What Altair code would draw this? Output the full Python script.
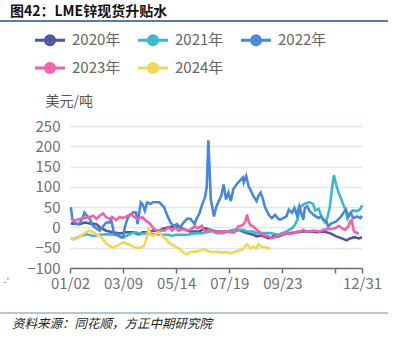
import altair as alt
import pandas as pd

FONT = "Noto Sans CJK SC"

years = ["2020年", "2021年", "2022年", "2023年", "2024年"]
colors = ["#4f579c", "#3cb8cd", "#4a88d4", "#f160a9", "#f3d652"]

tick_days = [0, 66, 132, 198, 264, 330, 363]
tick_labels = ["01/02", "03/09", "05/14", "07/19", "09/23", "", "12/31"]
y_ticks = [-100, -50, 0, 50, 100, 150, 200, 250]

d2020 = [1, 12, 18, 25, 33, 37, 45, 53, 62, 70, 78, 82, 86, 90, 98, 103, 111, 115, 121, 127,
         135, 141, 149, 155, 161, 168, 174, 182, 195, 203, 209, 215, 220, 228, 232, 238, 247, 253, 259, 267,
         274, 282, 290, 298, 307, 315, 323, 331, 338, 344, 348, 354, 359, 363]
v2020 = [10, 8, 12, 10, 8, 0, -8, -12, -15, -12, -12, -15, -17, -12, -12, -8, -8, -4, 0, 2,
         2, -4, -10, -10, -10, -2, -6, -10, -10, -12, -6, -10, -14, -18, -22, -20, -27, -22, -22, -16,
         -14, -12, -10, -10, -12, -10, -14, -22, -27, -32, -27, -24, -27, -24]

d2021 = [1, 4, 12, 21, 29, 37, 45, 53, 57, 64, 70, 76, 82, 86, 94, 103, 111, 115, 123, 127,
         131, 146, 155, 165, 174, 178, 182, 191, 195, 203, 215, 220, 228, 232, 249, 259, 269, 276, 280, 283,
         286, 290, 294, 298, 302, 305, 309, 313, 317, 320, 323, 326, 328, 331, 334, 337, 340, 343, 345, 348,
         352, 357, 361, 363]
v2021 = [-25, -29, -22, -17, -21, -18, -17, -17, -18, -25, -21, -15, -12, -15, -15, -17, -17, -18, -18, -21,
         -18, -18, -15, -14, -10, -10, -14, -14, -10, -6, -6, -10, -10, -14, -14, -18, -10, -2, 8, 20,
         50, 56, 60, 62, 58, 42, 46, 25, 12, 25, 50, 100, 129, 105, 85, 70, 55, 40, 22, 35,
         42, 40, 45, 55]

d2022 = [1, 3, 6, 10, 12, 16, 18, 21, 25, 27, 31, 37, 45, 49, 51, 55, 59, 64, 66, 68,
         72, 76, 79, 82, 84, 88, 90, 93, 96, 100, 103, 107, 111, 115, 117, 121, 125, 129, 133, 137,
         141, 146, 150, 155, 157, 161, 164, 168, 170, 172, 174, 175, 179, 182, 186, 188, 191, 194, 197, 200,
         203, 207, 211, 215, 216, 219, 222, 224, 228, 232, 234, 237, 240, 242, 247, 251, 255, 258, 261, 265,
         269, 272, 276, 279, 282, 285, 290, 292, 295, 298, 303, 309, 312, 315, 319, 321, 325, 331, 337, 340,
         343, 346, 349, 352, 357, 361, 363]
v2022 = [50, 21, 10, 8, 10, 25, 37, 29, 20, 8, 0, -8, 12, 12, 21, -17, -17, -25, -25, 0,
         25, 33, 37, 37, 8, 62, 58, 41, 62, 58, 62, 62, 62, 54, 50, 29, 12, 4, 8, 0,
         12, 22, 21, 8, 20, 35, 55, 75, 100, 215, 120, 70, 27, 52, 69, 77, 106, 69, 86, 65,
         94, 106, 115, 123, 111, 127, 102, 94, 77, 65, 77, 86, 69, 52, 31, 23, 31, 23, 19, 23,
         27, 44, 36, 48, 31, 52, 19, 48, 52, 40, 31, 23, 27, 19, 15, 2, 10, 15, 27, 36,
         44, 27, 36, 23, 27, 23, 29]

d2023 = [1, 6, 12, 18, 25, 29, 33, 37, 41, 45, 49, 53, 57, 62, 66, 72, 76, 80, 84, 90,
         94, 98, 103, 107, 111, 117, 123, 127, 131, 135, 141, 146, 149, 155, 159, 164, 168, 174, 182, 191,
         199, 205, 209, 215, 218, 220, 222, 224, 228, 232, 236, 240, 247, 251, 257, 263, 269, 276, 282, 286,
         290, 294, 303, 311, 315, 323, 330, 334, 338, 342, 346, 348, 350, 353, 357, 359]
v2023 = [21, 17, 21, 23, 26, 29, 21, 29, 35, 25, 21, 25, 18, 26, 23, 29, 33, 25, 21, 25,
         17, 12, 0, -8, -7, -8, 0, -8, 0, -8, -4, -8, -6, 2, -2, 4, -10, -6, -12, -10,
         -12, -10, 2, 6, 15, 32, 15, 6, 2, -6, -12, -18, -22, -27, -22, -18, -14, -16, -10, -10,
         -6, -10, -8, -10, -6, -4, -2, 4, -2, -6, 2, 14, 18, -10, -14, -14]

d2024 = [1, 4, 10, 16, 23, 29, 33, 37, 41, 45, 49, 53, 59, 66, 72, 76, 82, 88, 92, 95,
         98, 100, 103, 107, 110, 113, 117, 121, 125, 129, 133, 137, 141, 146, 150, 157, 166, 174, 182, 191,
         195, 199, 205, 211, 215, 220, 224, 228, 232, 234, 238, 242, 249]
v2024 = [-25, -29, -26, -17, -8, -12, -17, -21, -29, -40, -45, -50, -45, -37, -41, -45, -50, -50, -45, -29,
         0, -17, -21, -17, -12, -17, -25, -33, -41, -45, -50, -54, -62, -66, -60, -60, -54, -60, -60, -62,
         -60, -64, -60, -56, -54, -41, -52, -47, -52, -41, -47, -49, -52]

title_text = "图42：LME锌现货升贴水"
source_text = "资料来源：同花顺，方正中期研究院"
y_title = "美元/吨"

rows = []
for name, ds, vs in zip(years, [d2020, d2021, d2022, d2023, d2024],
                        [v2020, v2021, v2022, v2023, v2024]):
    for d, v in zip(ds, vs):
        rows.append({"day": d, "value": v, "year": name})
df = pd.DataFrame(rows)

label_expr = " : ".join(
    f"datum.value == {t} ? '{l}'" for t, l in zip(tick_days, tick_labels)) + " : ''"

legend_path = ("M-2,0H2"
               "M0.6,0A0.6,0.6,0,1,1,-0.6,0A0.6,0.6,0,1,1,0.6,0"
               "M0.2,0A0.2,0.2,0,1,1,-0.2,0A0.2,0.2,0,1,1,0.2,0")

lines = alt.Chart(df).mark_line(strokeWidth=2.6, interpolate="linear").encode(
    x=alt.X("day:Q",
            scale=alt.Scale(domain=[0, 363], nice=False, zero=False),
            axis=alt.Axis(values=tick_days, labelExpr=label_expr, title=None, grid=False,
                          domainColor="#6e7079", domainWidth=1.5, tickColor="#6e7079",
                          tickSize=5, tickWidth=1.5, labelFontSize=15, labelColor="#6e7079",
                          labelFont=FONT, labelPadding=3, labelFlush=False, labelOverlap=False)),
    y=alt.Y("value:Q",
            scale=alt.Scale(domain=[-100, 250], nice=False, zero=False),
            axis=alt.Axis(values=y_ticks, title=y_title, titleAngle=0, titleAlign="left",
                          titleBaseline="middle", titleX=-25, titleY=-25, titleFontSize=14,
                          titleFontWeight="normal", titleColor="#555555", titleFont=FONT,
                          domain=False, ticks=False, labelPadding=10, labelFontSize=15,
                          labelColor="#6e7079", labelFont=FONT,
                          gridColor="#e0e6f1", gridWidth=1.5)),
    color=alt.Color("year:N", scale=alt.Scale(domain=years, range=colors),
                    legend=alt.Legend(title=None, orient="none", legendX=-29, legendY=-95,
                                      direction="horizontal", columns=3,
                                      symbolType=legend_path, symbolSize=225,
                                      symbolStrokeWidth=3, symbolOpacity=1,
                                      labelFontSize=15, labelColor="#666666", labelFont=FONT,
                                      labelOffset=13, columnPadding=11, rowPadding=6)),
)

one = pd.DataFrame({"t": [0]})

title_mark = alt.Chart(pd.DataFrame({"t": [title_text]})).mark_text(
    align="left", baseline="middle", font=FONT, fontSize=14, fontWeight="bold", color="#111111"
).encode(text="t:N", x=alt.value(-60), y=alt.value(-114))

rule_top = alt.Chart(one).mark_rule(color="#21527f", strokeWidth=1.5).encode(
    x=alt.value(-70), x2=alt.value(318), y=alt.value(-105))

rule_bottom = alt.Chart(one).mark_rule(color="#6a8fb5", strokeWidth=1).encode(
    x=alt.value(-70), x2=alt.value(318), y=alt.value(187))

source_mark = alt.Chart(pd.DataFrame({"t": [source_text]})).mark_text(
    align="left", baseline="middle", font=FONT, fontSize=12.5, fontStyle="italic", color="#222222"
).encode(text="t:N", x=alt.value(-58), y=alt.value(198))

artifact = alt.Chart(pd.DataFrame({"t": ["-'"]})).mark_text(
    align="left", baseline="middle", font=FONT, fontSize=10, color="#888888"
).encode(text="t:N", x=alt.value(-67), y=alt.value(156))

chart = alt.layer(lines, title_mark, rule_top, rule_bottom, source_mark, artifact).properties(
    width=292, height=142,
    autosize=alt.AutoSizeParams(type="none"),
    padding={"left": 70, "top": 126, "right": 35, "bottom": 83},
    background="white",
).configure_view(strokeWidth=0)

chart.save("out.html", embed_options={"renderer": "svg", "actions": False})
